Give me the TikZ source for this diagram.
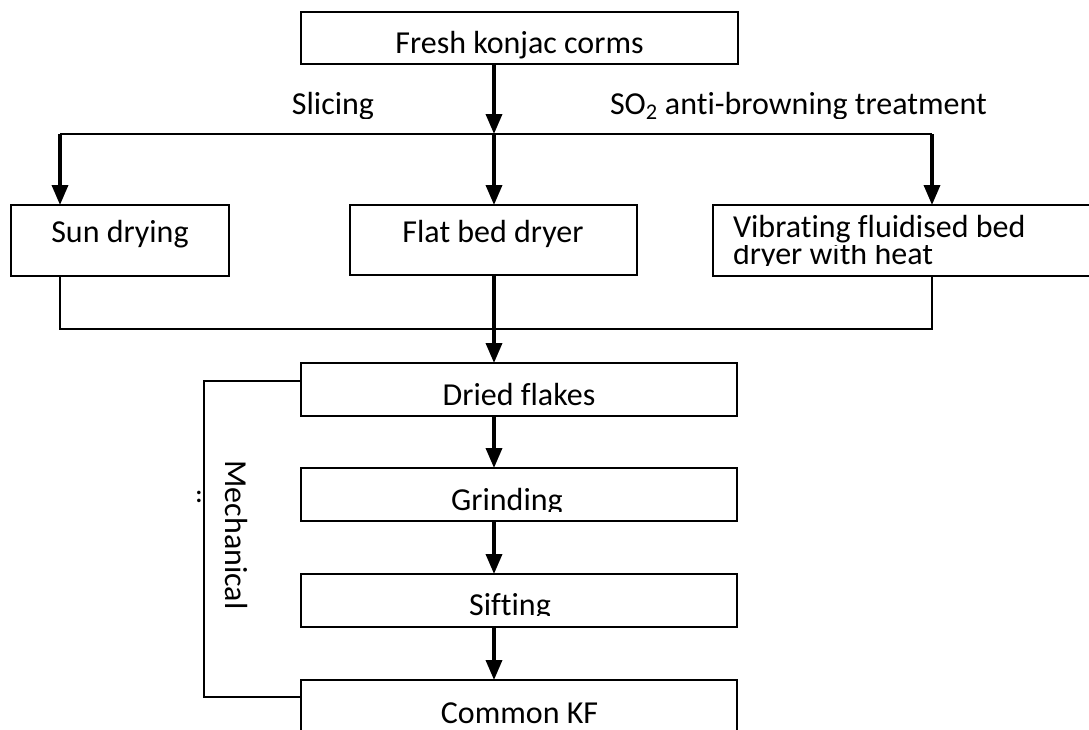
\documentclass[tikz,border=0pt]{standalone}
\usepackage{fontspec}
\setmainfont{Carlito}[Ligatures=CommonOff]
\usetikzlibrary{arrows.meta}
\begin{document}
\begin{tikzpicture}[x=1pt,y=-1pt,
  stepbox/.style={draw=black, line width=1.8pt, inner sep=0pt, outer sep=0pt},
  lbl/.style={font=\fontsize{32}{32}\selectfont, inner sep=0pt, outer sep=0pt, anchor=base},
  flow/.style={line width=3.5pt, -{Triangle[width=16pt,length=20pt]}},
  hline/.style={line width=2.6pt},
  thinline/.style={line width=2pt}]
\clip (0,0) rectangle (1089,729);
\fill[white] (0,0) rectangle (1089,729);
% boxes
\node[stepbox, minimum width=437, minimum height=52] (top) at (519.5,38) {};
\node[stepbox, minimum width=218, minimum height=71] (sun) at (120,240.5) {};
\node[stepbox, minimum width=287, minimum height=70] (flat) at (493.5,240) {};
\node[stepbox, minimum width=400, minimum height=71] (vib) at (913,240.5) {};
\node[stepbox, minimum width=436, minimum height=53] (dried) at (519,389.5) {};
\node[stepbox, minimum width=436, minimum height=53] (grind) at (519,494.5) {};
\node[stepbox, minimum width=436, minimum height=53] (sift) at (519,600.5) {};
\node[stepbox, minimum width=436, minimum height=70] (common) at (519,715) {};
% coordinates
\coordinate (sp) at (494,134);
\coordinate (sl) at (60,134);
\coordinate (sr) at (932,134);
\coordinate (jl) at (60,329);
\coordinate (jr) at (932,329);
\coordinate (jm) at (494,329);
\coordinate (ml1) at (204,381);
\coordinate (ml2) at (204,697);
% connectors
\draw[flow] (top.south -| sp) -- (sp);
\draw[hline] (sl) -- (sr);
\draw[flow] (sl) -- (sun.north -| sl);
\draw[flow] (sp) -- (flat.north -| sp);
\draw[flow] (sr) -- (vib.north -| sr);
\draw[thinline] (sun.south -| jl) -- (jl) -- (jr) -- (vib.south -| jr);
\draw[flow] (flat.south -| jm) -- (dried.north -| jm);
\draw[flow] (dried.south -| jm) -- (grind.north -| jm);
\draw[flow] (grind.south -| jm) -- (sift.north -| jm);
\draw[flow] (sift.south -| jm) -- (common.north -| jm);
\draw[thinline] (dried.west |- ml1) -- (ml1) -- (ml2) -- (common.west |- ml2);
% texts
\node[lbl] (ttop) at (519.5,53) {Fresh konjac corms};
\begin{scope}
\clip (0,80) rectangle (1089,118);
\node[lbl] (tslice) at (333,114) {Slicing};
\node[lbl, anchor=base west] (tso) at (610,114) {SO\textsubscript{2} anti-browning treatment};
\end{scope}
\node[lbl] (tsun) at (120,242) {Sun drying};
\node[lbl] (tflat) at (493,242) {Flat bed dryer};
\node[lbl, anchor=base west] (tvib1) at (733,237) {Vibrating fluidised bed};
\begin{scope}
\clip (714,245) rectangle (1089,265);
\node[lbl, anchor=base west] (tvib2) at (733,264) {dryer with heat};
\end{scope}
\node[lbl] (tdried) at (519,405) {Dried flakes};
\begin{scope}
\clip (303,470) rectangle (735,511);
\node[lbl] (tgrind) at (507,510) {Grinding};
\end{scope}
\begin{scope}
\clip (303,576) rectangle (735,615);
\node[lbl] (tsift) at (510,615) {Sifting};
\end{scope}
\node[lbl] (tcommon) at (519.5,723) {Common KF};
\node[lbl, rotate=-90] (tmech) at (225,535) {Mechanical};
\node[inner sep=0pt, font=\bfseries\fontsize{24}{24}\selectfont] (tdots) at (199,497) {:};
\end{tikzpicture}
\end{document}
